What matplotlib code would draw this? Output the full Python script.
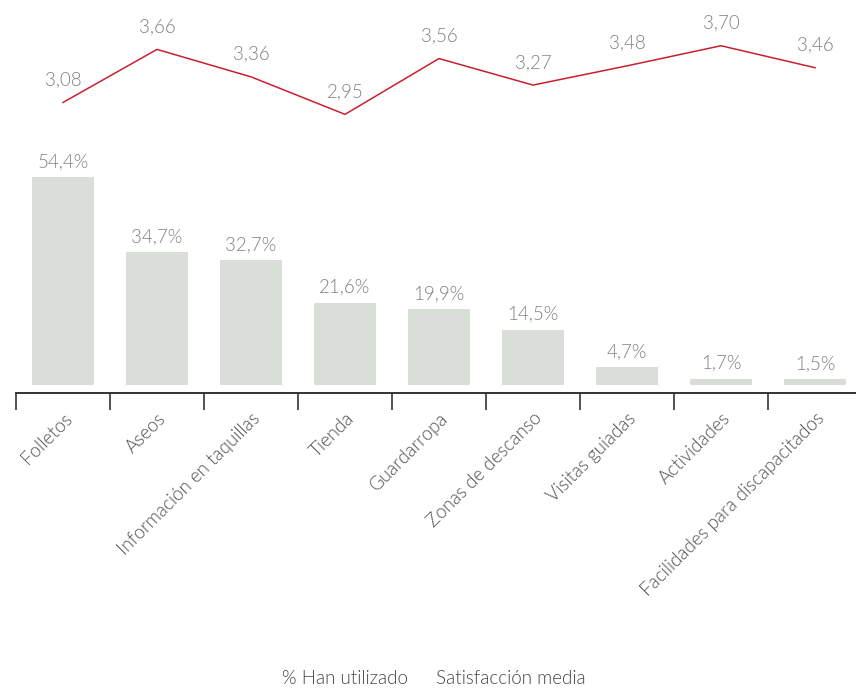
import matplotlib.pyplot as plt
import numpy as np

plt.rcParams['font.family'] = ['Lato', 'DejaVu Sans']
plt.rcParams['font.weight'] = 300

categorias = ['Folletos', 'Aseos', 'Información en taquillas', 'Tienda', 'Guardarropa',
              'Zonas de descanso', 'Visitas guiadas', 'Actividades',
              'Facilidades para discapacitados']
utilizado = [54.4, 34.7, 32.7, 21.6, 19.9, 14.5, 4.7, 1.7, 1.5]
satisfaccion = [3.08, 3.66, 3.36, 2.95, 3.56, 3.27, 3.48, 3.70, 3.46]

W, H = 856, 694
fig = plt.figure(figsize=(W / 100, H / 100), dpi=100)
# axes runs from the left tick to the right edge, from the top down to the spine
ax = fig.add_axes([16 / W, (H - 393) / H, 840 / W, 393 / H])
ax2 = ax.twinx()

x = np.arange(len(categorias))
ax.bar(x, utilizado, width=0.65, color='#d9dfd8', zorder=2)
ax.set_xlim(-0.5, 8.436)
ax.set_ylim(-2.09, 100.8)

fs = 13.5
for xi, v in zip(x, utilizado):
    ax.annotate(f'{v:.1f}%'.replace('.', ','), (xi, v), xytext=(0, 5),
                textcoords='offset points', ha='center', va='bottom',
                fontsize=fs, color='#808080')

ax2.plot(x, satisfaccion, color='#c8202f', lw=1.1)
ax2.set_ylim(-0.096, 4.2)
for xi, v in zip(x, satisfaccion):
    ax2.annotate(f'{v:.2f}'.replace('.', ','), (xi, v), xytext=(0, 10),
                 textcoords='offset points', ha='center', va='bottom',
                 fontsize=fs, color='#808080')

for a in (ax, ax2):
    for s in ('top', 'right', 'left'):
        a.spines[s].set_visible(False)
    a.set_yticks([])
ax2.spines['bottom'].set_visible(False)
ax.spines['bottom'].set_color('#333333')
ax.spines['bottom'].set_linewidth(1.4)

# boundary ticks without labels, names on minor ticks at bar centres
ax.set_xticks(np.arange(-0.5, 8, 1.0))
ax.set_xticklabels([])
ax.tick_params(axis='x', which='major', length=12, width=1.2, color='#333333')
ax.set_xticks(x, minor=True)
ax.set_xticklabels(categorias, minor=True, rotation=45, ha='right', va='top',
                   rotation_mode='anchor', fontsize=fs, color='#505050')
ax.tick_params(axis='x', which='minor', length=0, pad=12)

fig.text(408 / W, 1 - 678 / H, '% Han utilizado', ha='right', va='center',
         fontsize=fs, color='#454545')
fig.text(436 / W, 1 - 678 / H, 'Satisfacción media', ha='left', va='center',
         fontsize=fs, color='#454545')

fig.savefig('out.png', dpi=100)
